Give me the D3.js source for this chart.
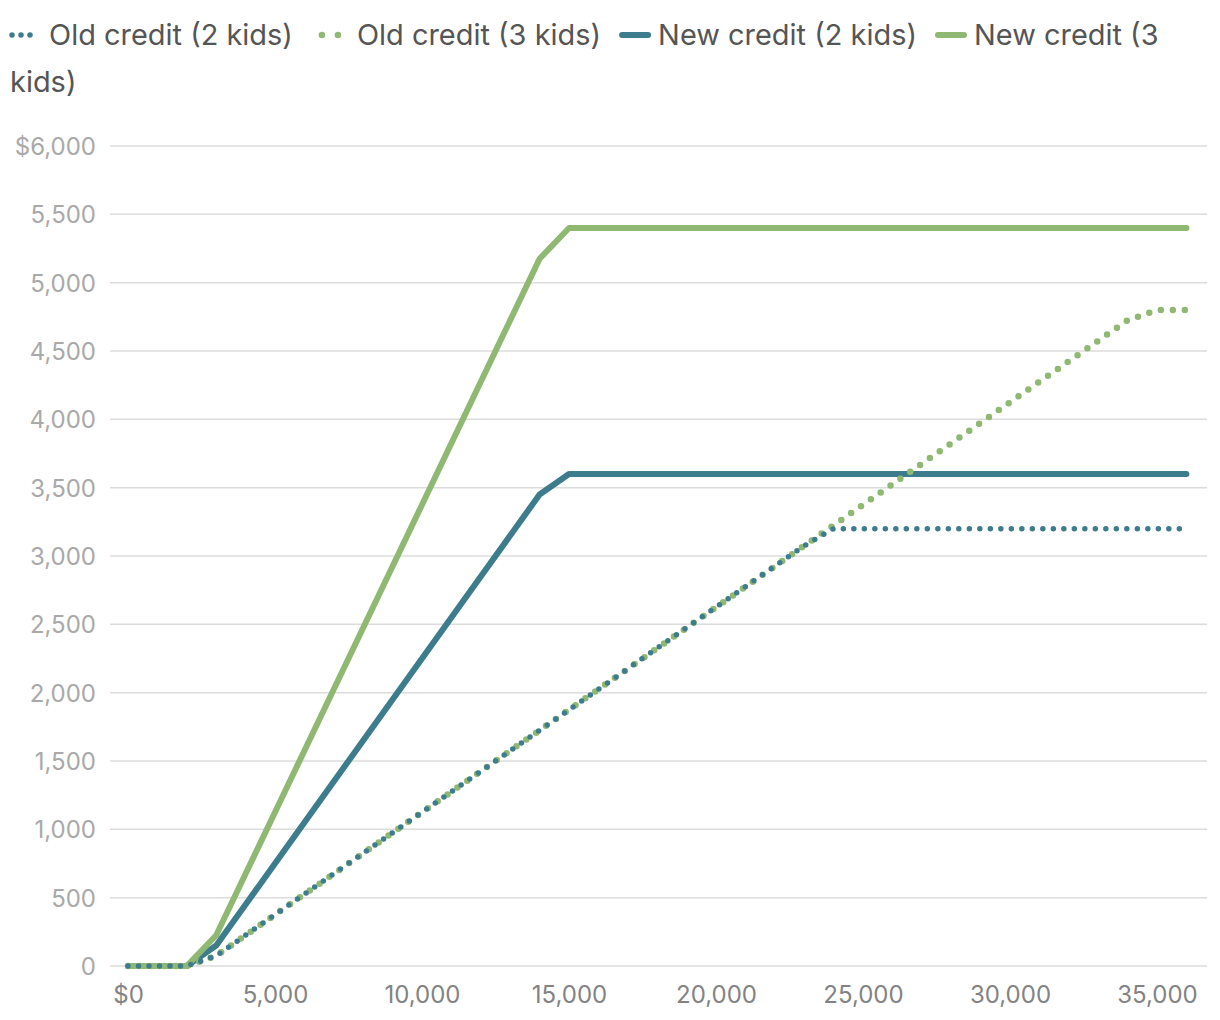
<!DOCTYPE html>
<html><head><meta charset="utf-8">
<script src="https://cdn.jsdelivr.net/npm/d3@7"></script>
<style>body{margin:0;background:#fff;} svg{display:block;}</style>
</head><body><svg id="c" width="1220" height="1020"></svg>
<script>
const income = [0,1000,2000,3000,4000,5000,6000,7000,8000,9000,10000,11000,12000,13000,14000,15000,16000,17000,18000,19000,20000,21000,22000,23000,24000,25000,26000,27000,28000,29000,30000,31000,32000,33000,34000,35000,36000];
const old2 = [0,0,0,75,225,375,525,675,825,975,1125,1275,1425,1575,1725,1875,2025,2175,2325,2475,2625,2775,2925,3075,3200,3200,3200,3200,3200,3200,3200,3200,3200,3200,3200,3200,3200];
const old3 = [0,0,0,75,225,375,525,675,825,975,1125,1275,1425,1575,1725,1875,2025,2175,2325,2475,2625,2775,2925,3075,3225,3375,3525,3675,3825,3975,4125,4275,4425,4575,4725,4800,4800];
const new2 = [0,0,0,150,450,750,1050,1350,1650,1950,2250,2550,2850,3150,3450,3600,3600,3600,3600,3600,3600,3600,3600,3600,3600,3600,3600,3600,3600,3600,3600,3600,3600,3600,3600,3600,3600];
const new3 = [0,0,0,225,675,1125,1575,2025,2475,2925,3375,3825,4275,4725,5175,5400,5400,5400,5400,5400,5400,5400,5400,5400,5400,5400,5400,5400,5400,5400,5400,5400,5400,5400,5400,5400,5400];
const seriesNames = ["Old credit (2 kids)","Old credit (3 kids)","New credit (2 kids)","New credit (3 kids)"];
const yTicks = [0,500,1000,1500,2000,2500,3000,3500,4000,4500,5000,5500,6000];
const xTicks = [0,5000,10000,15000,20000,25000,30000,35000];

const TEAL = "#3d7c8d", GREEN = "#8fb972";
const series = [
  {name: seriesNames[0], values: old2, color: TEAL, dotted: true, dw: 5.5, dgap: 10.5},
  {name: seriesNames[1], values: old3, color: GREEN, dotted: true, dw: 6.5, dgap: 12},
  {name: seriesNames[2], values: new2, color: TEAL, dotted: false},
  {name: seriesNames[3], values: new3, color: GREEN, dotted: false}
];
const FONT = "Inter, Roboto, sans-serif";
const svg = d3.select("#c");
const x = d3.scaleLinear().domain([0,36000]).range([128,1186.4]);
const y = d3.scaleLinear().domain([0,6000]).range([966,146]);

// grid
const gridL = 110, gridR = 1207;
svg.append("g").selectAll("line").data(yTicks).join("line")
  .attr("x1", gridL).attr("x2", gridR)
  .attr("y1", d=>y(d)).attr("y2", d=>y(d))
  .attr("stroke", "#dcdcdc").attr("stroke-width", 1.5);

// y axis labels
const yAxis = d3.axisLeft(y).tickValues(yTicks).tickSize(0).tickPadding(0)
  .tickFormat(d => d===6000 ? "$6,000" : d3.format(",")(d));
const gy = svg.append("g").attr("transform", "translate(96,0)").call(yAxis);
gy.select(".domain").remove();
gy.selectAll("text").attr("font-family", FONT).attr("font-size", 24).attr("fill", "#a9a9a9").attr("dy","0.36em");

// x axis labels
const xAxis = d3.axisBottom(x).tickValues(xTicks).tickSize(0).tickPadding(0)
  .tickFormat(d => d===0 ? "$0" : d3.format(",")(d));
const gx = svg.append("g").attr("transform", "translate(0,1003)").call(xAxis);
gx.select(".domain").remove();
gx.selectAll("text").attr("font-family", FONT).attr("font-size", 24).attr("fill", "#838383").attr("y", 0).attr("dy","0");

// lines
const line = d3.line().x((d,i)=>x(income[i])).y(d=>y(d));
const order = [2,3,1,0]; // solid first, then dotted (3 kids under 2 kids)
order.forEach(k => {
  const s = series[k];
  const p = svg.append("path").datum(s.values).attr("d", line)
    .attr("fill","none").attr("stroke", s.color)
    .attr("stroke-linecap","round").attr("stroke-linejoin","round");
  if (s.dotted) p.attr("stroke-width", s.dw).attr("stroke-dasharray", "0 " + s.dgap);
  else p.attr("stroke-width", 6);
});

// legend with word wrap
const legend = svg.append("g");
const measure = svg.append("text").attr("font-family", FONT).attr("font-size", 30);
function w(t, fs){ measure.attr("font-size", fs).text(t); return measure.node().getComputedTextLength(); }
const LFS = Math.min(32, 30 * 244 / w(seriesNames[0], 30));
const maxX = 1185, lineH = 47, startX = 8, baseY = 45;
let cx = startX, cy = baseY;
series.forEach((s, idx) => {
  const my = cy - 10;
  let textStart;
  if (s.dotted) {
    const n = idx === 0 ? 3 : 2, sp = idx === 0 ? 9 : 16;
    const dotsX = d3.range(n).map(i => cx + 4 + i*sp);
    legend.append("g").selectAll("circle").data(dotsX).join("circle")
      .attr("cx", d=>d).attr("cy", my).attr("r", s.dw/2).attr("fill", s.color);
    textStart = dotsX[n-1] + 19;
  } else {
    legend.append("line").attr("x1", cx+3).attr("x2", cx+29).attr("y1", my).attr("y2", my)
      .attr("stroke", s.color).attr("stroke-width", 6).attr("stroke-linecap","round");
    textStart = cx + 39;
  }
  const words = s.name.split(" ");
  let cur = "", lineStart = textStart;
  const flush = () => {
    legend.append("text").attr("x", lineStart).attr("y", cy).text(cur)
      .attr("font-family", FONT).attr("font-size", LFS).attr("fill", "#555");
  };
  words.forEach(wd => {
    const test = cur ? cur + " " + wd : wd;
    if (lineStart + w(test, LFS) > maxX && cur) {
      flush(); cy += lineH; lineStart = 10; cur = wd;
    } else cur = test;
  });
  flush();
  cx = lineStart + w(cur, LFS) + (idx === 0 ? 25 : 18);
});
measure.remove();
</script></body></html>
